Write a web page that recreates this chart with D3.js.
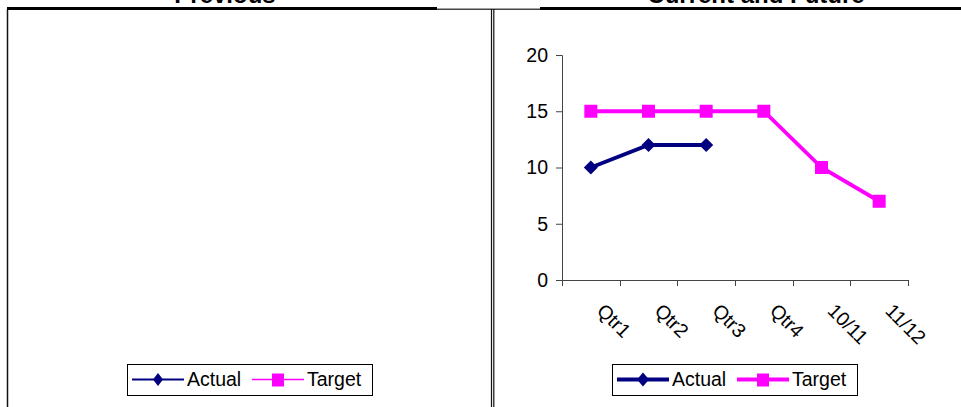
<!DOCTYPE html>
<html><head><meta charset="utf-8">
<script src="https://cdn.jsdelivr.net/npm/d3@7"></script>
<style>
html,body{margin:0;padding:0;background:#fff;}
svg{display:block;font-family:Arial,"Liberation Sans",sans-serif;}
</style></head>
<body>
<svg id="c" width="961" height="407"></svg>
<script>
const categories = ["Qtr1","Qtr2","Qtr3","Qtr4","10/11","11/12"];
const actualValues = [10,12,12,null,null,null];
const targetValues = [15,15,15,15,10,7];
const yTicks = [0,5,10,15,20];
const seriesNames = ["Actual","Target"];
const seriesColors = ["#000080","#FF00FF"];
const panelTitles = ["Previous","Current and Future"];

const svg = d3.select("#c");

// frame lines
const frame = svg.append("g");
frame.append("line").attr("x1",7).attr("x2",437).attr("y1",8.5).attr("y2",8.5).attr("stroke","#000").attr("stroke-width",3);
frame.append("line").attr("x1",437).attr("x2",540).attr("y1",9.3).attr("y2",9.3).attr("stroke","#444").attr("stroke-width",1.5);
frame.append("line").attr("x1",540).attr("x2",961).attr("y1",8.5).attr("y2",8.5).attr("stroke","#000").attr("stroke-width",3);
frame.append("line").attr("x1",7.5).attr("x2",7.5).attr("y1",9).attr("y2",407).attr("stroke","#111").attr("stroke-width",1.5);
frame.append("line").attr("x1",491.5).attr("x2",491.5).attr("y1",9).attr("y2",407).attr("stroke","#111").attr("stroke-width",1.2);
frame.append("line").attr("x1",493.8).attr("x2",493.8).attr("y1",9).attr("y2",407).attr("stroke","#111").attr("stroke-width",1.2);

// titles (cut off at the top edge, as in the reference)
const titleX = [225, 756];
panelTitles.forEach((t,i)=>{
  svg.append("text").attr("x",titleX[i]).attr("y",3).attr("text-anchor","middle")
    .attr("font-weight","bold").attr("font-size",24).text(t);
});

// scales
const x = d3.scaleBand().domain(categories).range([562,908]).paddingInner(0).paddingOuter(0);
const y = d3.scaleLinear().domain([0,20]).range([280,55]);
const cx = c => x(c) + x.bandwidth()/2;

// y axis
const yAxis = svg.append("g").attr("transform","translate(562,0)")
  .call(d3.axisLeft(y).tickValues(yTicks).tickSize(6).tickPadding(8).tickFormat(d3.format("d")));
yAxis.select(".domain").attr("stroke","#444");
yAxis.selectAll(".tick line").attr("stroke","#444");
yAxis.selectAll("text").attr("font-size",19.5).attr("font-family","Arial, 'Liberation Sans', sans-serif").attr("fill","#000");

// x axis
const xg = svg.append("g");
xg.append("line").attr("x1",x.range()[0]).attr("x2",x.range()[1]).attr("y1",y(0)+0.5).attr("y2",y(0)+0.5).attr("stroke","#444");
const edges = categories.map(c=>x(c)).concat([x.range()[1]]);
xg.selectAll(".xt").data(edges).enter().append("line")
  .attr("x1",d=>Math.round(d)+0.5).attr("x2",d=>Math.round(d)+0.5)
  .attr("y1",y(0)).attr("y2",y(0)+6).attr("stroke","#444");
xg.selectAll(".xl").data(categories).enter().append("text")
  .attr("transform",c=>`translate(${cx(c)+5},${312}) rotate(45)`)
  .attr("font-size",19.5).attr("text-anchor","start").text(c=>c);

// lines
const series = [actualValues, targetValues];
const line = d3.line().defined(d=>d.v!=null).x(d=>cx(d.c)).y(d=>y(d.v));
const diamond = (s)=>`M0,${-s}L${s},0L0,${s}L${-s},0Z`;
series.forEach((vals,i)=>{
  const data = categories.map((c,j)=>({c, v: vals[j]}));
  svg.append("path").datum(data).attr("d",line).attr("fill","none")
    .attr("stroke",seriesColors[i]).attr("stroke-width",3.8).attr("stroke-linejoin","miter");
  const pts = data.filter(d=>d.v!=null);
  if(i===0){
    svg.selectAll(".m"+i).data(pts).enter().append("path")
      .attr("transform",d=>`translate(${cx(d.c)},${y(d.v)})`)
      .attr("d",diamond(7)).attr("fill",seriesColors[i]);
  } else {
    svg.selectAll(".m"+i).data(pts).enter().append("rect")
      .attr("x",d=>cx(d.c)-6.5).attr("y",d=>y(d.v)-6.5).attr("width",13).attr("height",13)
      .attr("fill",seriesColors[i]);
  }
});

// legends
function legend(x0, thin){
  const g = svg.append("g");
  g.append("rect").attr("x",x0+0.5).attr("y",364.5).attr("width",245).attr("height",31)
    .attr("fill","#fff").attr("stroke","#000").attr("stroke-width",1);
  const offs = [5, 125];
  seriesNames.forEach((n,i)=>{
    const lx = x0 + offs[i];
    const sw = thin ? (i===0?2.2:1.3) : 3.8;
    g.append("line").attr("x1",lx).attr("x2",lx+52).attr("y1",379.5).attr("y2",379.5)
      .attr("stroke",seriesColors[i]).attr("stroke-width",sw);
    if(i===0){
      g.append("path").attr("transform",`translate(${lx+26},379.5)`)
        .attr("d", thin? `M0,-6.5L5,0L0,6.5L-5,0Z` : `M0,-7L6,0L0,7L-6,0Z`).attr("fill",seriesColors[i]);
    } else {
      g.append("rect").attr("x",lx+26-6).attr("y",373.5).attr("width",12).attr("height",13).attr("fill",seriesColors[i]);
    }
    g.append("text").attr("x",lx+55).attr("y",386).attr("font-size",19.5).text(n);
  });
}
legend(127, true);
legend(612, false);
</script>
</body></html>
